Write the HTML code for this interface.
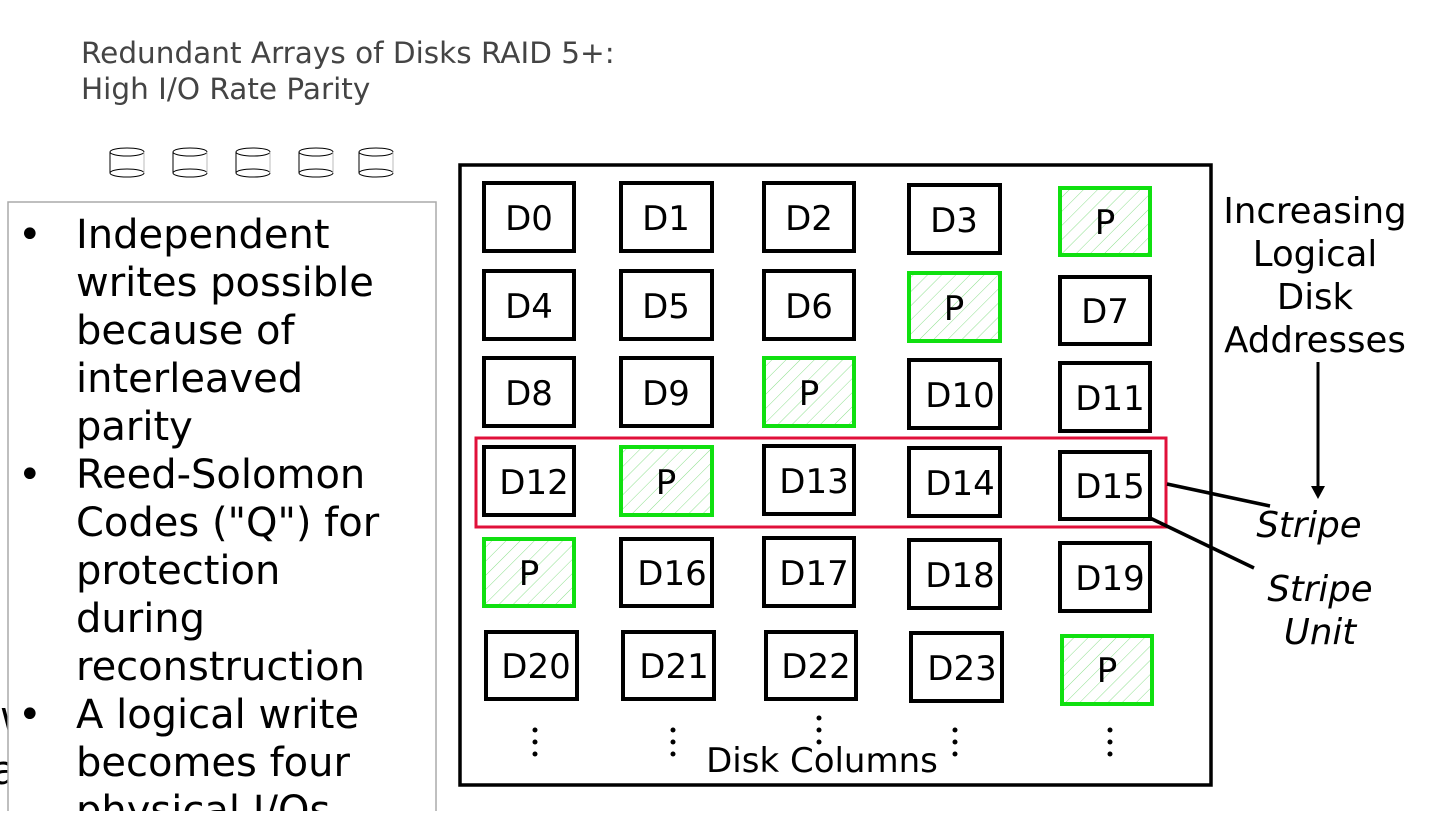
<!DOCTYPE html>
<html><head><meta charset="utf-8"><style>
body{margin:0;width:1440px;height:811px;overflow:hidden;background:#fff;font-family:"DejaVu Sans","Liberation Sans",sans-serif;}
</style></head><body>
<svg width="1440" height="811" viewBox="0 0 1440 811" xmlns="http://www.w3.org/2000/svg" font-family="DejaVu Sans, Liberation Sans, sans-serif">
<defs>
<pattern id="h" width="10" height="10" patternUnits="userSpaceOnUse" patternTransform="rotate(45)">
<line x1="0" y1="0" x2="0" y2="10" stroke="#8ee08e" stroke-width="1"/>
</pattern>
</defs>
<text x="81" y="63" font-size="29.5" fill="#444">Redundant Arrays of Disks RAID 5+:</text>
<text x="81" y="99" font-size="29.5" fill="#444">High I/O Rate Parity</text>
<g fill="none" stroke="#000" stroke-width="1">
<g id="c"><ellipse cx="127" cy="152" rx="17" ry="4"/><ellipse cx="127" cy="173" rx="17" ry="4"/><line x1="110" y1="152" x2="110" y2="173"/><line x1="144" y1="152" x2="144" y2="173" stroke="#bbb"/></g>
<use href="#c" x="63"/><use href="#c" x="126"/><use href="#c" x="189"/><use href="#c" x="249"/>
</g>
<text x="0" y="730" font-size="40">w</text>
<text x="-8" y="784" font-size="40">a</text>
<rect x="8" y="202" width="428" height="640" fill="#fff" stroke="#aaa" stroke-width="1.5"/>
<g font-size="40" fill="#000">
<text x="18" y="248">•</text>
<text x="76" y="248">Independent</text>
<text x="76" y="296">writes possible</text>
<text x="76" y="344">because of</text>
<text x="76" y="392">interleaved</text>
<text x="76" y="440">parity</text>
<text x="18" y="488">•</text>
<text x="76" y="488">Reed-Solomon</text>
<text x="76" y="536">Codes ("Q") for</text>
<text x="76" y="584">protection</text>
<text x="76" y="632">during</text>
<text x="76" y="680">reconstruction</text>
<text x="18" y="728">•</text>
<text x="76" y="728">A logical write</text>
<text x="76" y="776">becomes four</text>
<text x="76" y="824">physical I/Os</text>
</g>
<rect x="460" y="165" width="751" height="620" fill="none" stroke="#000" stroke-width="3.5"/>
<g font-size="34" text-anchor="middle" stroke-width="4">
<g fill="none" stroke="#000">
<rect x="484" y="183" width="90" height="68"/><rect x="621" y="183" width="91" height="68"/><rect x="764" y="183" width="90" height="68"/><rect x="909" y="185" width="91" height="68"/>
<rect x="484" y="271" width="90" height="68"/><rect x="621" y="271" width="91" height="68"/><rect x="764" y="271" width="90" height="68"/><rect x="1060" y="277" width="90" height="67"/>
<rect x="484" y="358" width="90" height="68"/><rect x="621" y="358" width="91" height="68"/><rect x="909" y="360" width="91" height="68"/><rect x="1060" y="363" width="90" height="68"/>
<rect x="484" y="447" width="90" height="68"/><rect x="764" y="446" width="90" height="68"/><rect x="909" y="448" width="91" height="68"/><rect x="1060" y="452" width="90" height="67"/>
<rect x="621" y="539" width="91" height="67"/><rect x="764" y="538" width="90" height="68"/><rect x="909" y="540" width="91" height="68"/><rect x="1060" y="543" width="90" height="68"/>
<rect x="486" y="632" width="91" height="67"/><rect x="623" y="632" width="91" height="67"/><rect x="766" y="632" width="90" height="67"/><rect x="911" y="633" width="91" height="68"/>
</g>
<g fill="url(#h)" stroke="#10e010">
<rect x="1060" y="188" width="90" height="67"/><rect x="909" y="273" width="91" height="68"/><rect x="764" y="358" width="90" height="68"/><rect x="621" y="447" width="91" height="68"/><rect x="484" y="539" width="90" height="67"/><rect x="1062" y="636" width="90" height="68"/>
</g>
<rect x="476" y="438" width="690" height="89" fill="none" stroke="#e0103a" stroke-width="3"/>
<g fill="#000">
<text x="529" y="230">D0</text><text x="666" y="230">D1</text><text x="809" y="230">D2</text><text x="954" y="232">D3</text><text x="1105" y="234">P</text>
<text x="529" y="318">D4</text><text x="666" y="318">D5</text><text x="809" y="318">D6</text><text x="954" y="320">P</text><text x="1105" y="323">D7</text>
<text x="529" y="405">D8</text><text x="666" y="405">D9</text><text x="809" y="405">P</text><text x="960" y="407">D10</text><text x="1110" y="410">D11</text>
<text x="534" y="494">D12</text><text x="666" y="494">P</text><text x="814" y="493">D13</text><text x="960" y="495">D14</text><text x="1110" y="498">D15</text>
<text x="529" y="585">P</text><text x="672" y="585">D16</text><text x="814" y="585">D17</text><text x="960" y="587">D18</text><text x="1110" y="590">D19</text>
<text x="536" y="678">D20</text><text x="674" y="678">D21</text><text x="816" y="678">D22</text><text x="962" y="680">D23</text><text x="1107" y="682">P</text>
</g>
</g>
<g fill="#000">
<circle cx="535" cy="730" r="2.5"/><circle cx="535" cy="742" r="2.5"/><circle cx="535" cy="754" r="2.5"/>
<circle cx="673" cy="730" r="2.5"/><circle cx="673" cy="742" r="2.5"/><circle cx="673" cy="754" r="2.5"/>
<circle cx="819" cy="718" r="2.5"/><circle cx="819" cy="730" r="2.5"/><circle cx="819" cy="742" r="2.5"/>
<circle cx="955" cy="730" r="2.5"/><circle cx="955" cy="742" r="2.5"/><circle cx="955" cy="754" r="2.5"/>
<circle cx="1110" cy="730" r="2.5"/><circle cx="1110" cy="742" r="2.5"/><circle cx="1110" cy="754" r="2.5"/>
</g>
<text x="822" y="772" font-size="34" text-anchor="middle">Disk Columns</text>
<g font-size="35.5" text-anchor="middle">
<text x="1315" y="223">Increasing</text>
<text x="1315" y="266">Logical</text>
<text x="1315" y="309">Disk</text>
<text x="1315" y="352">Addresses</text>
</g>
<line x1="1318" y1="362" x2="1318" y2="488" stroke="#000" stroke-width="3"/>
<polygon points="1311,486 1325,486 1318,499" fill="#000"/>
<line x1="1167" y1="484" x2="1270" y2="506" stroke="#000" stroke-width="3.5"/>
<line x1="1150" y1="518" x2="1254" y2="568" stroke="#000" stroke-width="3.5"/>
<g font-size="35.5" font-style="italic" text-anchor="middle">
<text x="1309" y="537">Stripe</text>
<text x="1320" y="601">Stripe</text>
<text x="1320" y="644">Unit</text>
</g>
</svg>
</body></html>
